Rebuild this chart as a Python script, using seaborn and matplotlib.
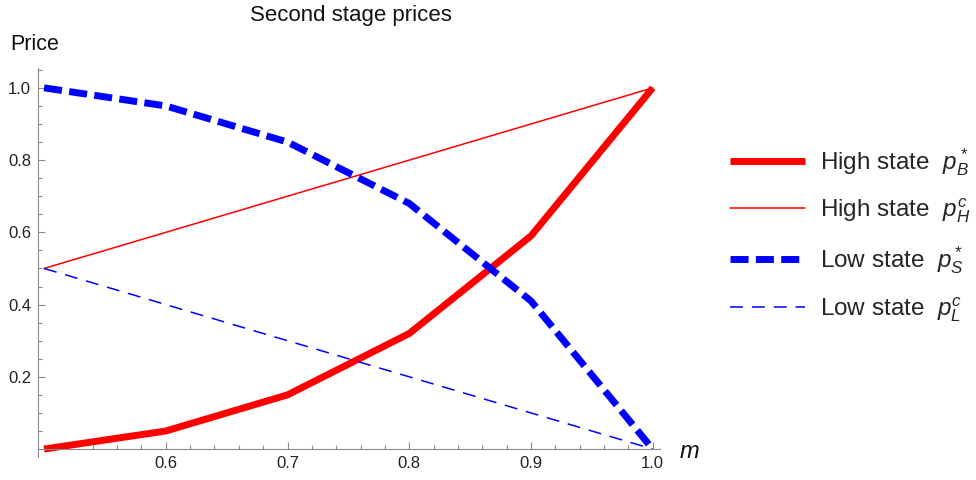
import numpy as np
import pandas as pd
import matplotlib
matplotlib.use("Agg")
import matplotlib.pyplot as plt
from matplotlib.ticker import FixedLocator
import seaborn as sns

# ---- data ----
m_vals = [0.5, 0.6, 0.7, 0.8, 0.9, 1.0]
high_pB = [0.0, 0.05, 0.15, 0.32, 0.59, 1.0]
low_pS = [1.0, 0.95, 0.85, 0.68, 0.41, 0.0]
m_lin = [0.5, 1.0]
high_pH = [0.5, 1.0]
low_pL = [0.5, 0.0]

labels = [r"High state  $p_B^*$", r"High state  $p_H^c$",
          r"Low state  $p_S^*$", r"Low state  $p_L^c$"]
x_major = [0.6, 0.7, 0.8, 0.9, 1.0]
x_labels = ["0.6", "0.7", "0.8", "0.9", "1.0"]
y_major = [0.2, 0.4, 0.6, 0.8, 1.0]
y_labels = ["0.2", "0.4", "0.6", "0.8", "1.0"]

sns.set_style("white")
plt.rcParams["font.family"] = ["Liberation Sans", "DejaVu Sans"]
plt.rcParams["mathtext.fontset"] = "custom"
plt.rcParams["mathtext.rm"] = "Liberation Sans"
plt.rcParams["mathtext.it"] = "Liberation Sans:italic"
plt.rcParams["mathtext.bf"] = "Liberation Sans:bold"

fig = plt.figure(figsize=(9.76, 4.8), dpi=100)
ax = fig.add_axes([38 / 976, 23 / 480, (660 - 38) / 976, (457 - 68) / 480])

df1 = pd.DataFrame({"m": m_vals, "p": high_pB})
df2 = pd.DataFrame({"m": m_lin, "p": high_pH})
df3 = pd.DataFrame({"m": m_vals, "p": low_pS})
df4 = pd.DataFrame({"m": m_lin, "p": low_pL})

sns.lineplot(data=df1, x="m", y="p", ax=ax, color=(1, 0, 0), lw=5,
             label=labels[0], solid_capstyle="butt", solid_joinstyle="round")
sns.lineplot(data=df2, x="m", y="p", ax=ax, color=(1, 0, 0), lw=1.1,
             label=labels[1])
sns.lineplot(data=df3, x="m", y="p", ax=ax, color=(0, 0, 1), lw=5,
             ls=(0, (2.6, 1.05)), label=labels[2])
sns.lineplot(data=df4, x="m", y="p", ax=ax, color=(0, 0, 1), lw=1.1,
             ls=(0, (8.5, 5.8)), label=labels[3])

ax.set_xlim(0.495, 1.006)
ax.set_ylim(-0.022, 1.055)
ax.set_xlabel("")
ax.set_ylabel("")

axis_col = "#8a8a8a"
for s in ["top", "right"]:
    ax.spines[s].set_visible(False)
ax.spines["bottom"].set_position(("data", 0))
for s in ["left", "bottom"]:
    ax.spines[s].set_color(axis_col)
    ax.spines[s].set_linewidth(0.8)

ax.xaxis.set_major_locator(FixedLocator(x_major))
ax.set_xticklabels(x_labels)
ax.xaxis.set_minor_locator(FixedLocator(
    [v for v in np.round(np.arange(0.5, 1.001, 0.02), 2) if v not in x_major]))
ax.yaxis.set_major_locator(FixedLocator(y_major))
ax.set_yticklabels(y_labels)
ax.yaxis.set_minor_locator(FixedLocator(
    [v for v in np.round(np.arange(0.05, 1.051, 0.05), 2) if v not in y_major]))

ax.tick_params(which="major", direction="in", length=5, width=0.8,
               color=axis_col, labelsize=12, labelcolor="#222222", pad=5)
ax.tick_params(which="minor", direction="in", length=3, width=0.8,
               color=axis_col)
ax.tick_params(axis="x", which="both", bottom=True)
ax.tick_params(axis="y", which="both", left=True)

fig.text(351 / 976, 1 - 16 / 480, "Second stage prices", ha="center",
         va="center", fontsize=16, color="#111111")
fig.text(10 / 976, 1 - 45 / 480, "Price", ha="left", va="center",
         fontsize=15.5, color="#111111")
fig.text(680 / 976, 1 - 452 / 480, "m", ha="left", va="center",
         fontsize=17, style="italic", color="#111111")

leg = ax.legend(loc="upper left", bbox_to_anchor=(730 / 976, 1 - 146 / 480),
                bbox_transform=fig.transFigure, frameon=False, fontsize=17.5,
                borderpad=0, borderaxespad=0, handlelength=3.1,
                handletextpad=0.6, labelspacing=0.78)

fig.savefig("out.png", dpi=100)
